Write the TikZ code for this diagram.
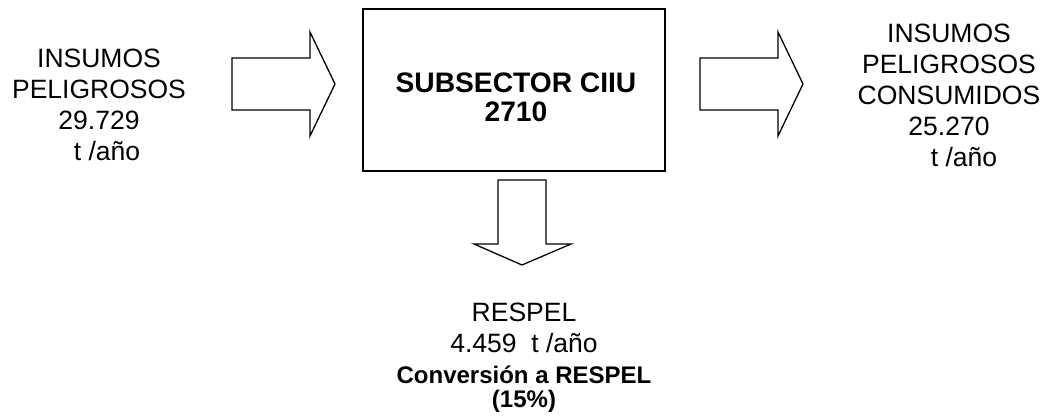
\documentclass[tikz,border=0pt]{standalone}
\usepackage{fontspec}
\setmainfont{Liberation Sans}
\usetikzlibrary{positioning}

\tikzset{
  flowtext/.style={align=center, inner sep=0pt, anchor=north, font=\fontsize{13.25}{15.4}\selectfont},
  blockarrow/.style={draw, line width=.65pt, line join=miter},
}

\begin{document}
\begin{tikzpicture}[x=.5pt,y=-.5pt]
    \useasboundingbox (0,0) rectangle (1046,417);
    % Draw the subsector box and its label
    \node[draw, line width=1pt, minimum width=151pt, minimum height=81pt] (ciiu) at (514,90) {};
    \node[flowtext, font=\bfseries\fontsize{14.1}{14.5}\selectfont] (ciiulabel) at (516,72) {SUBSECTOR CIIU\\2710};
    % Draw the input and output texts
    \node[flowtext] (insumos) at (99,49) {INSUMOS\\PELIGROSOS\\29.729\\\hspace*{8pt}t /año};
    \node[flowtext] (consumidos) at (949,24) {INSUMOS\\PELIGROSOS\\CONSUMIDOS\\25.270\\\hspace*{15pt}t /año};
    \node[flowtext] (respel) at (524,303) {RESPEL\\4.459~~t /año};
    \node[flowtext, font=\bfseries\fontsize{12}{12}\selectfont] (conversion) at (524,365) {Conversión a RESPEL\\(15\%)};
    % Draw the block arrows in and out
    \foreach \x in {232,700}{
      \draw[blockarrow] (\x,58) -- ++(78,0) -- ++(0,-26) -- ++(25,52) -- ++(-25,52) -- ++(0,-26) -- ++(-78,0) -- cycle;
    }
    % Draw the block arrow down to the waste
    \draw[blockarrow] (498,180) -- (546,180) -- (546,244) -- (571,244) -- (522,265) -- (474,244) -- (498,244) -- cycle;
\end{tikzpicture}
\end{document}
